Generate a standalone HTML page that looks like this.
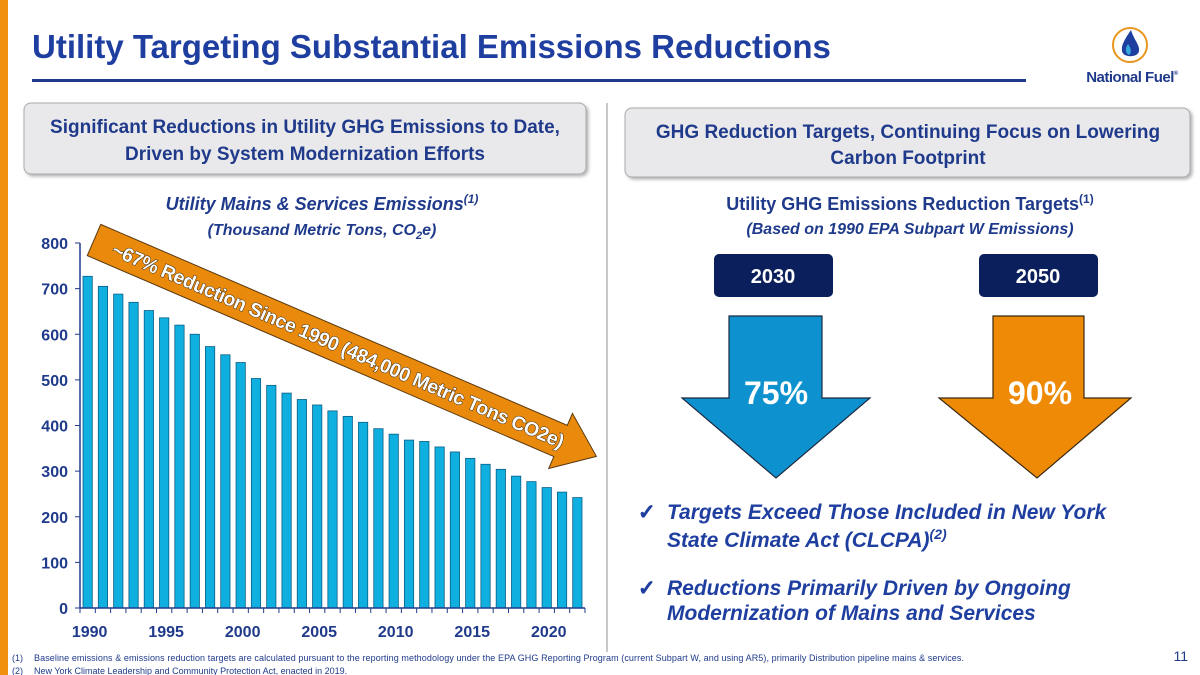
<!DOCTYPE html>
<html><head><meta charset="utf-8"><style>
body{margin:0;width:1200px;height:675px;overflow:hidden;background:#fff;font-family:"Liberation Sans",sans-serif}
svg{display:block}
</style></head><body>
<svg id="s" width="1200" height="675" viewBox="0 0 1200 675" xmlns="http://www.w3.org/2000/svg" font-family="Liberation Sans, sans-serif">
<defs>
<filter id="sh" x="-5%" y="-10%" width="110%" height="130%"><feDropShadow dx="2" dy="2" stdDeviation="1.5" flood-color="#000" flood-opacity="0.3"/></filter>
</defs>
<rect x="0" y="0" width="8" height="675" fill="#f0900f"/>
<text x="32" y="58" font-size="33" font-weight="bold" fill="#1f3fa0">Utility Targeting Substantial Emissions Reductions</text>
<rect x="32" y="79" width="994" height="3" fill="#1f3a8a"/>
<g>
<circle cx="1130" cy="45" r="17" fill="#fff" stroke="#e8961e" stroke-width="2"/>
<path d="M1131 30 C1124 40 1121 46 1122 51 C1123 58 1138 58 1139 51 C1140 45 1134 40 1131 30Z" fill="#1f3fa0"/>
<path d="M1128 44 C1125 48 1125 53 1129 55 C1132 53 1131 48 1128 44Z" fill="#33a9dc"/>
<text x="1132" y="82" font-size="15" font-weight="bold" fill="#1f3a8a" text-anchor="middle" letter-spacing="-0.5">National Fuel<tspan font-size="6" dy="-7">®</tspan></text>
</g>
<line x1="607" y1="103" x2="607" y2="652" stroke="#c8c8c8" stroke-width="2"/>
<rect x="24" y="103" width="562" height="71" rx="7" fill="#e9e9ec" stroke="#aaa" filter="url(#sh)"/>
<text x="305" y="133" font-size="19" font-weight="bold" fill="#1f3a8a" text-anchor="middle">Significant Reductions in Utility GHG Emissions to Date,</text>
<text x="305" y="160" font-size="19" font-weight="bold" fill="#1f3a8a" text-anchor="middle">Driven by System Modernization Efforts</text>
<rect x="625" y="108" width="565" height="69" rx="7" fill="#e9e9ec" stroke="#aaa" filter="url(#sh)"/>
<text x="908" y="138" font-size="19" font-weight="bold" fill="#1f3a8a" text-anchor="middle">GHG Reduction Targets, Continuing Focus on Lowering</text>
<text x="908" y="164" font-size="19" font-weight="bold" fill="#1f3a8a" text-anchor="middle">Carbon Footprint</text>
<text x="322" y="210" font-size="18" font-weight="bold" font-style="italic" fill="#1f3a8a" text-anchor="middle">Utility Mains &amp; Services Emissions<tspan font-size="12" dy="-7">(1)</tspan></text>
<text x="322" y="235" font-size="16" font-weight="bold" font-style="italic" fill="#1f3a8a" text-anchor="middle">(Thousand Metric Tons, CO<tspan font-size="11" dy="4">2</tspan><tspan dy="-4">e)</tspan></text>
<text x="910" y="210" font-size="18" font-weight="bold" fill="#1f3a8a" text-anchor="middle">Utility GHG Emissions Reduction Targets<tspan font-size="12" dy="-7">(1)</tspan></text>
<text x="910" y="234" font-size="16" font-weight="bold" font-style="italic" fill="#1f3a8a" text-anchor="middle">(Based on 1990 EPA Subpart W Emissions)</text>
<g id="chart"></g>
<g transform="translate(94,240) rotate(23.3)">
<path d="M0 -17 L508 -17 L508 -30 L547 0 L508 30 L508 17 L0 17 Z" fill="#ea8a0c" stroke="#5a3a10" stroke-width="1"/>
<text x="266" y="7" font-size="19.5" font-weight="bold" fill="#fff" stroke="#2a2010" stroke-width="0.9" paint-order="stroke" text-anchor="middle" textLength="490">~67% Reduction Since 1990 (484,000 Metric Tons CO2e)</text>
</g>
<rect x="714" y="254" width="119" height="43" rx="5" fill="#0b1f5c"/>
<text x="773" y="283" font-size="20" font-weight="bold" fill="#fff" text-anchor="middle">2030</text>
<rect x="979" y="254" width="119" height="43" rx="5" fill="#0b1f5c"/>
<text x="1038" y="283" font-size="20" font-weight="bold" fill="#fff" text-anchor="middle">2050</text>
<path d="M729 316 L822 316 L822 398 L870 398 L776 478 L682 398 L729 398 Z" fill="#0e92cf" stroke="#1a2a40" stroke-width="1.2"/>
<text x="776" y="404" font-size="32" font-weight="bold" fill="#fff" text-anchor="middle">75%</text>
<path d="M993 316 L1084 316 L1084 398 L1131 398 L1037 478 L939 398 L993 398 Z" fill="#ee8a06" stroke="#3a2a10" stroke-width="1.2"/>
<text x="1040" y="404" font-size="32" font-weight="bold" fill="#fff" text-anchor="middle">90%</text>
<g font-size="21" font-weight="bold" font-style="italic" fill="#1f3fa0">
<text x="638" y="519" font-style="normal" font-family="DejaVu Sans, sans-serif" stroke="#1f3fa0" stroke-width="1.2">✓</text>
<text x="667" y="519">Targets Exceed Those Included in New York</text>
<text x="667" y="547">State Climate Act (CLCPA)<tspan font-size="14" dy="-8">(2)</tspan></text>
</g>
<g font-size="21" font-weight="bold" font-style="italic" fill="#1f3fa0">
<text x="638" y="595" font-style="normal" font-family="DejaVu Sans, sans-serif" stroke="#1f3fa0" stroke-width="1.2">✓</text>
<text x="667" y="595">Reductions Primarily Driven by Ongoing</text>
<text x="667" y="620">Modernization of Mains and Services</text>
</g>
<g font-size="9" fill="#1f3a8a">
<text x="12" y="661">(1)</text><text x="34" y="661" textLength="930">Baseline emissions &amp; emissions reduction targets are calculated pursuant to the reporting methodology under the EPA GHG Reporting Program (current Subpart W, and using AR5), primarily Distribution pipeline mains &amp; services.</text>
<text x="12" y="674">(2)</text><text x="34" y="674">New York Climate Leadership and Community Protection Act, enacted in 2019.</text>
</g>
<text x="1188" y="661" font-size="14" fill="#1f3a8a" text-anchor="end">11</text>
</svg>
<script>
const years = [1990,1991,1992,1993,1994,1995,1996,1997,1998,1999,2000,2001,2002,2003,2004,2005,2006,2007,2008,2009,2010,2011,2012,2013,2014,2015,2016,2017,2018,2019,2020,2021,2022];
const emissions = [727,705,688,670,652,636,620,600,573,555,538,503,488,471,457,445,432,420,407,393,381,368,365,353,342,328,315,304,289,277,264,254,242];
const yTicks = [0,100,200,300,400,500,600,700,800];
const xLabels = [1990,1995,2000,2005,2010,2015,2020];
const NS='http://www.w3.org/2000/svg';
const g=document.getElementById('chart');
const x0=80,x1=585,y0=608,yTop=243,yMax=800;
const bw=(x1-x0)/years.length;
const yS=v=>y0-(v/yMax)*(y0-yTop);
const xS=i=>x0+i*bw;
function mk(t,a){const e=document.createElementNS(NS,t);for(const k in a)e.setAttribute(k,a[k]);g.appendChild(e);return e;}
years.forEach((yr,i)=>{
  const r=mk('rect',{x:xS(i)+3,y:yS(emissions[i]),width:bw-6,height:y0-yS(emissions[i]),fill:'#0fb0e0',stroke:'#0b5e86','stroke-width':0.8});
  
  
  const t=mk('line',{x1:xS(i),x2:xS(i),y1:y0,y2:y0+5,stroke:'#1f3a8a','stroke-width':1});
  
  
});
mk('line',{x1:x1,x2:x1,y1:y0,y2:y0+5,stroke:'#1f3a8a'});
const ax=mk('line',{x1:x0,x2:x1,y1:y0,y2:y0,stroke:'#1f3a8a','stroke-width':1.5});


const ay=mk('line',{x1:x0,x2:x0,y1:yTop,y2:y0,stroke:'#1f3a8a','stroke-width':1.5});


yTicks.forEach(v=>{
  mk('line',{x1:x0-5,x2:x0,y1:yS(v),y2:yS(v),stroke:'#1f3a8a'});
  const t=mk('text',{x:x0-12,y:yS(v)+6,'font-size':16,'font-weight':'bold',fill:'#1f3a8a','text-anchor':'end'});
  t.textContent=v;
  
  
});
xLabels.forEach(yr=>{
  const i=years.indexOf(yr);
  const t=mk('text',{x:xS(i)+bw/2+2,y:y0+29,'font-size':16,'font-weight':'bold',fill:'#1f3a8a','text-anchor':'middle'});
  t.textContent=yr;
  
  
});
</script>
</body></html>
